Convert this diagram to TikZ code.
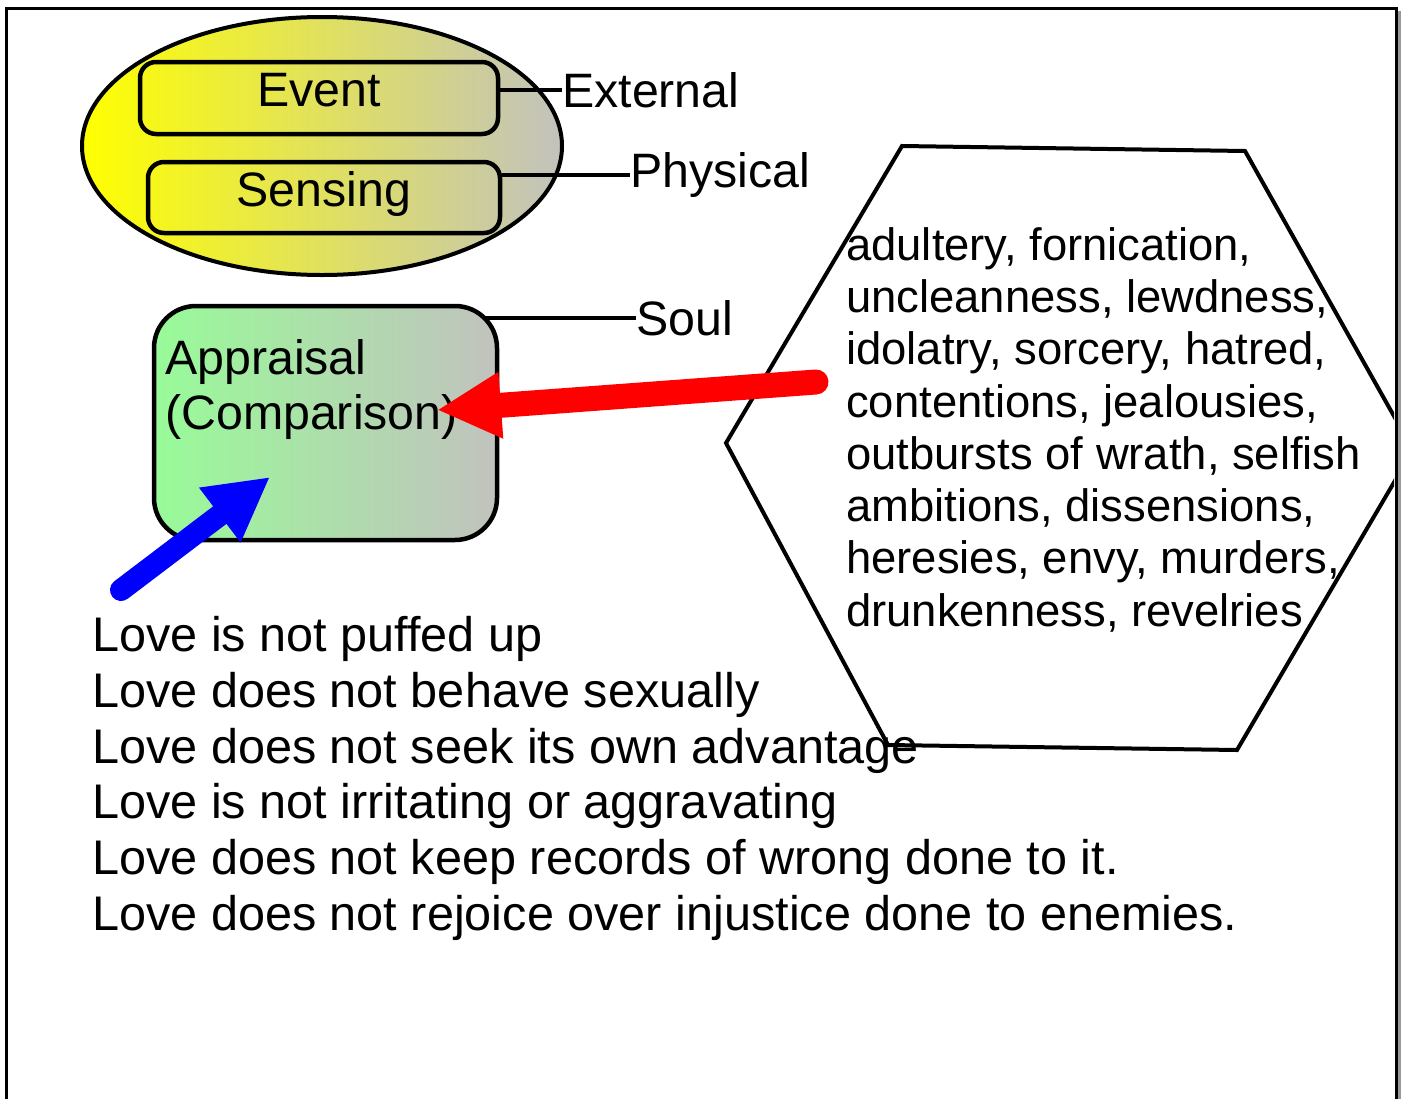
\documentclass[tikz,border=0pt]{standalone}
\usepackage{fontspec}
\setmainfont{Liberation Sans}
\usetikzlibrary{arrows.meta,calc,shapes.geometric,backgrounds}
\definecolor{silverish}{RGB}{194,194,190}
\definecolor{palegreen}{RGB}{152,251,152}
\begin{document}
\begin{tikzpicture}[x=1pt,y=-1pt,
  lbl/.style={inner sep=0pt, font=\fontsize{48.3}{55.8}\selectfont},
  listtxt/.style={inner sep=0pt, font=\fontsize{45.4}{52.3}\selectfont, align=left},
  pillbox/.style={draw, line width=4.5pt, rounded corners=16pt, inner sep=0pt,
    font=\fontsize{48.3}{55.8}\selectfont, text height=35pt, text depth=18pt},
  conn/.style={draw, line width=4pt}
]
\useasboundingbox (0,0) rectangle (1403,1098);
% frame
\draw[gray!80, line width=3pt] (1399,11) -- (1399,1100);
\draw[line width=3pt] (6,1100) -- (6,8) -- (1396,8) -- (1396,1100);

% ellipse
\node[draw, ellipse, line width=4pt, minimum width=480pt, minimum height=258pt,
  inner sep=0pt, left color=yellow, right color=silverish] (oval) at (322,146) {};

% labels
\node[lbl, anchor=base west] (ext) at (562,107) {External};
\node[lbl, anchor=base west] (phys) at (630,187) {Physical};
\node[lbl, anchor=base west] (soul) at (636,335) {Soul};

% event / sensing boxes
\node[pillbox, minimum width=358pt, minimum height=72pt] (event) at (319,98) {Event};
\node[pillbox, minimum width=352pt, minimum height=71pt] (sensing) at (324,197.5) {Sensing};

\draw[conn] (event.east |- ext.west) -- (ext.west);
\draw[conn] (sensing.east |- phys.west) -- (phys.west);

% appraisal box
\node[draw, line width=4.5pt, rounded corners=42pt, minimum width=343pt, minimum height=234pt,
  inner sep=0pt, left color=palegreen, right color=silverish] (appr) at (325.5,423) {};
\begin{pgfonlayer}{background}
\draw[conn] (appr.center |- soul.west) -- (soul.west);
\end{pgfonlayer}
\node[lbl, anchor=base west] (apprA) at (165,374) {Appraisal};
\node[lbl, anchor=base west] (apprB) at (165,429) {(Comparison)};

% hexagon
\coordinate (h1) at (902,146);
\coordinate (h2) at (1245,151);
\coordinate (h3) at (1413,450);
\coordinate (h4) at (1237,750);
\coordinate (h5) at (888,745);
\coordinate (h6) at (726,443);
\begin{scope}
\clip (0,0) rectangle (1394,1098);
\draw[line width=4pt, line join=miter] (h1) -- (h2) -- (h3) -- (h4) -- (h5) -- (h6) -- cycle;
\end{scope}
\node[listtxt, anchor=north west] (sins) at (846,227) {adultery, fornication,\\uncleanness, lewdness,\\idolatry, sorcery, hatred,\\contentions, jealousies,\\outbursts of wrath, selfish\\ambitions, dissensions,\\heresies, envy, murders,\\drunkenness, revelries};

% love list
\node[lbl, anchor=north west, align=left, font=\fontsize{48.6}{55.8}\selectfont] (love) at (92,616) {Love is not puffed up\\Love does not behave sexually\\Love does not seek its own advantage\\Love is not irritating or aggravating\\Love does not keep records of wrong done to it.\\Love does not rejoice over injustice done to enemies.};

% arrows
\coordinate (redtail) at (816,382);
\coordinate (redtip) at (437,410);
\draw[red, line width=25pt, line cap=round, -{Triangle[length=64pt,width=62pt]}] (redtail) -- (redtip);
\coordinate (bluetail) at (121,590);
\coordinate (bluetip) at (270,477);
\draw[blue, line width=22pt, line cap=round, -{Triangle[length=63pt,width=64pt]}] (bluetail) -- (bluetip);
\end{tikzpicture}
\end{document}
